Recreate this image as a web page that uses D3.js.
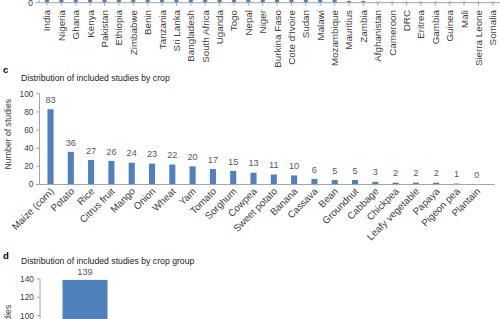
<!DOCTYPE html>
<html><head><meta charset="utf-8">
<script src="https://cdn.jsdelivr.net/npm/d3@7"></script>
<style>
html,body{margin:0;padding:0;background:#fff;}
svg{display:block;font-family:"Liberation Sans",Arial,Helvetica,sans-serif;}
</style></head>
<body>
<svg id="c" width="500" height="319"></svg>
<script>
// Panel b (cropped; only the baseline is visible) — country counts are estimates
const countries = ["India","Nigeria","Ghana","Kenya","Pakistan","Ethiopia","Zimbabwe","Benin","Tanzania","Sri Lanka","Bangladesh","South Africa","Uganda","Togo","Nepal","Niger","Burkina Faso","Cote d'Ivoire","Sudan","Malawi","Mozambique","Mauritius","Zambia","Afghanistan","Cameroon","DRC","Eritrea","Gambia","Guinea","Mali","Sierra Leone","Somalia"];
const countryValues = [60,45,30,28,20,18,15,14,12,10,9,8,7,6,5,5,4,4,4,3,3,2,2,1,1,1,1,1,1,1,1,1];
const countryTicks = [0];

// Panel c
const crops = ["Maize (corn)","Potato","Rice","Citrus fruit","Mango","Onion","Wheat","Yam","Tomato","Sorghum","Cowpea","Sweet potato","Banana","Cassava","Bean","Groundnut","Cabbage","Chickpea","Leafy vegetable","Papaya","Pigeon pea","Plantain"];
const cropValues = [83,36,27,26,24,23,22,20,17,15,13,11,10,6,5,5,3,2,2,2,1,0];
const cropTicks = [0,20,40,60,80,100];

// Panel d (cropped; only the first group is visible)
const groups = ["Cereals"];
const groupValues = [139];
const groupTicks = [0,20,40,60,80,100,120,140];

const svg = d3.select("#c");
const BLUE = "#4f81bd", AXIS = "#a6a6a6", TXT = "#404040", LBL = "#595959";
const FS = 8.7;

function yAxis(g, y, ticks, x0) {
  g.append("line").attr("x1", x0).attr("x2", x0)
    .attr("y1", y.range()[0]).attr("y2", y.range()[1]).attr("stroke", AXIS);
  ticks.forEach(t => {
    g.append("line").attr("x1", x0 - 3.5).attr("x2", x0).attr("y1", y(t)).attr("y2", y(t)).attr("stroke", AXIS);
    g.append("text").attr("x", x0 - 6).attr("y", y(t)).attr("dy", "0.35em")
      .attr("text-anchor", "end").attr("font-size", 8.4).attr("fill", TXT).text(t);
  });
}

// ---------- Panel b ----------
{
  const g = svg.append("g");
  const x = d3.scaleBand().domain(countries).range([39.8, 500]).paddingInner(0.72).paddingOuter(0.36);
  const y = d3.scaleLinear().domain([0, 60]).range([2.7, 2.7 - 60 * 0.907]);
  g.selectAll("rect").data(countries).join("rect")
    .attr("x", d => x(d)).attr("width", x.bandwidth())
    .attr("y", (d, i) => y(countryValues[i])).attr("height", (d, i) => y(0) - y(countryValues[i]))
    .attr("fill", BLUE);
  g.append("line").attr("x1", 39).attr("x2", 500).attr("y1", y(0)).attr("y2", y(0)).attr("stroke", AXIS);
  g.append("line").attr("x1", 39).attr("x2", 39).attr("y1", y(0)).attr("y2", -5).attr("stroke", AXIS);
  countryTicks.forEach(t => {
    g.append("line").attr("x1", 35.5).attr("x2", 39).attr("y1", y(t)).attr("y2", y(t)).attr("stroke", AXIS);
    g.append("text").attr("x", 33).attr("y", y(t)).attr("dy", "0.35em").attr("text-anchor", "end")
      .attr("font-size", 8.4).attr("fill", TXT).text(t);
  });
  countries.forEach(c => {
    const cx = x(c) + x.bandwidth() / 2;
    g.append("line").attr("x1", cx).attr("x2", cx).attr("y1", y(0)).attr("y2", y(0) + 3).attr("stroke", AXIS);
    g.append("text").attr("transform", `translate(${cx + 3.5},${10}) rotate(-90)`)
      .attr("text-anchor", "end").attr("font-size", 9.8).attr("fill", TXT).text(c);
  });
}

// ---------- Panel c ----------
{
  const g = svg.append("g");
  g.append("text").attr("x", 3).attr("y", 73).attr("font-size", 9.5).attr("font-weight", "bold").attr("fill", "#000").text("c");
  g.append("text").attr("x", 21).attr("y", 80.5).attr("font-size", FS).attr("fill", "#222").text("Distribution of included studies by crop");
  const x = d3.scaleBand().domain(crops).range([40.35, 487]).paddingInner(0.7).paddingOuter(0.35);
  const y = d3.scaleLinear().domain([0, 100]).range([184.5, 93.8]);
  g.selectAll("rect").data(crops).join("rect")
    .attr("x", d => x(d)).attr("width", x.bandwidth())
    .attr("y", (d, i) => y(cropValues[i])).attr("height", (d, i) => y(0) - y(cropValues[i]))
    .attr("fill", BLUE);
  yAxis(g, y, cropTicks, 39.5);
  g.append("line").attr("x1", 39.5).attr("x2", 495).attr("y1", y(0)).attr("y2", y(0)).attr("stroke", AXIS);
  crops.forEach((c, i) => {
    const cx = x(c) + x.bandwidth() / 2;
    g.append("text").attr("x", cx).attr("y", y(cropValues[i]) - 6.3)
      .attr("text-anchor", "middle").attr("font-size", 9.2).attr("fill", LBL).text(cropValues[i]);
    g.append("text").attr("transform", `translate(${cx + 4},${y(0) + 7.5}) rotate(-45)`)
      .attr("text-anchor", "end").attr("font-size", 9.8).attr("fill", TXT).text(c);
  });
  g.append("text").attr("transform", `translate(10.5,${(y(0) + y(100)) / 2 - 5}) rotate(-90)`)
    .attr("text-anchor", "middle").attr("font-size", FS).attr("fill", TXT).text("Number of studies");
}

// ---------- Panel d ----------
{
  const g = svg.append("g");
  g.append("text").attr("x", 3).attr("y", 258.5).attr("font-size", 9.5).attr("font-weight", "bold").attr("fill", "#000").text("d");
  g.append("text").attr("x", 21).attr("y", 263.5).attr("font-size", FS).attr("fill", "#222").text("Distribution of included studies by crop group");
  const x = d3.scaleBand().domain(groups).range([40, 130]).paddingInner(0.5).paddingOuter(0.25);
  const y = d3.scaleLinear().domain([0, 140]).range([407, 279]);
  g.selectAll("rect").data(groups).join("rect")
    .attr("x", d => x(d)).attr("width", x.bandwidth())
    .attr("y", (d, i) => y(groupValues[i])).attr("height", (d, i) => y(0) - y(groupValues[i]))
    .attr("fill", BLUE);
  yAxis(g, y, groupTicks, 40);
  groups.forEach((c, i) => {
    const cx = x(c) + x.bandwidth() / 2;
    g.append("text").attr("x", cx).attr("y", y(groupValues[i]) - 5)
      .attr("text-anchor", "middle").attr("font-size", 9.2).attr("fill", LBL).text(groupValues[i]);
  });
  g.append("text").attr("transform", `translate(10.5,${(y(0) + y(140)) / 2 - 3}) rotate(-90)`)
    .attr("text-anchor", "middle").attr("font-size", FS).attr("fill", TXT).text("Number of studies");
}
</script>
</body></html>
